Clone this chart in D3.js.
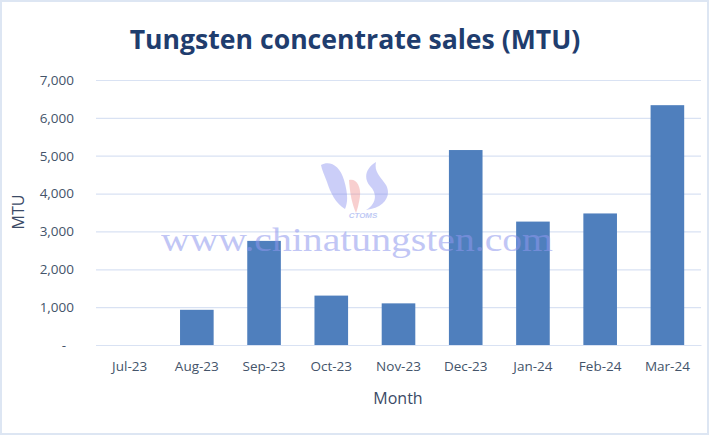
<!DOCTYPE html>
<html><head><meta charset="utf-8">
<script src="https://cdn.jsdelivr.net/npm/d3@7"></script>
<style>body{margin:0;background:#fff}svg{display:block}</style>
</head><body>
<svg id="c" width="710" height="436"></svg>
<script>
const months = ["Jul-23","Aug-23","Sep-23","Oct-23","Nov-23","Dec-23","Jan-24","Feb-24","Mar-24"];
const sales = [0, 930, 2750, 1305, 1100, 5150, 3260, 3475, 6335];
const yTicks = [0,1000,2000,3000,4000,5000,6000,7000];
const titleText = "Tungsten concentrate sales (MTU)";
const xTitle = "Month", yTitle = "MTU";

const svg = d3.select("#c");
svg.append("rect").attr("x",1).attr("y",1).attr("width",707).attr("height",433)
  .attr("fill","#fff").attr("stroke","#dde6f3").attr("stroke-width",2);

const x = d3.scaleBand().domain(months).range([96,701]).paddingInner(0.5).paddingOuter(0.25);
const y = d3.scaleLinear().domain([0,7000]).range([345,80]);

// gridlines
const grid = svg.append("g").attr("transform","translate(96,0)")
  .call(d3.axisLeft(y).tickValues(yTicks).tickSize(-605).tickFormat(""));
grid.select(".domain").remove();
grid.selectAll("line").attr("stroke","#d9e2f3").attr("stroke-width",1.2);

// y axis labels
const fmt = v => v === 0 ? "-" : d3.format(",")(v);
const ya = svg.append("g").attr("transform","translate(74,0)")
  .call(d3.axisLeft(y).tickValues(yTicks).tickSize(0).tickPadding(0).tickFormat(fmt));
ya.select(".domain").remove();
ya.selectAll("text").attr("font-family","'Open Sans', sans-serif").attr("font-size",13.5)
  .attr("fill","#44546a").attr("dx", d => d===0 ? -8 : 0);

// bars
svg.append("g").selectAll("rect").data(months).join("rect")
  .attr("x", d => x(d)).attr("width", x.bandwidth())
  .attr("y", (d,i) => y(sales[i])).attr("height", (d,i) => y(0) - y(sales[i]))
  .attr("fill","#4f7fbd");

// logo watermark
const logo = svg.append("g").attr("opacity",0.4);
logo.append("path").attr("d","M321,165 C330,160 340,166 344,180 C348,194 348,202 345,209 C336,204 330,192 327,182 C324,174 322,170 321,165 Z").attr("fill","#7f86ee");
logo.append("path").attr("d","M376,162 C366,168 363,178 370,186 C378,194 376,204 366,210 C384,208 392,196 386,185 C380,176 374,172 376,162 Z").attr("fill","#7f86ee");
logo.append("path").attr("d","M349,180 C356,178 361,186 360,196 C359,204 357,210 356,213 C352,204 350,194 349,180 Z").attr("fill","#ee8a8a");
logo.append("text").attr("x",363).attr("y",218).attr("text-anchor","middle")
  .attr("font-family","'Liberation Sans', sans-serif").attr("font-style","italic").attr("font-weight","bold")
  .attr("font-size",8).attr("fill","#5f78e6").text("CTOMS");

// text watermark (on top of bars)
svg.append("text").attr("x",357).attr("y",251).attr("text-anchor","middle")
  .attr("font-family","'Liberation Serif', serif").attr("font-size",34)
  .attr("textLength",392).attr("lengthAdjust","spacingAndGlyphs")
  .attr("fill","#8f98ee").attr("opacity",0.55).text("www.chinatungsten.com");

// x axis
const xa = svg.append("g").attr("transform","translate(0,345)")
  .call(d3.axisBottom(x).tickSize(0).tickPadding(16));
xa.select(".domain").attr("stroke","#d9e2f3").attr("stroke-width",1.2);
xa.selectAll("text").attr("font-family","'Open Sans', sans-serif").attr("font-size",13.5).attr("fill","#44546a");

// axis titles
svg.append("text").attr("x",398).attr("y",404).attr("text-anchor","middle")
  .attr("font-family","'Open Sans', sans-serif").attr("font-size",16).attr("fill","#3b4a66").text(xTitle);
svg.append("text").attr("transform","translate(24,212) rotate(-90)").attr("text-anchor","middle")
  .attr("font-family","'Open Sans', sans-serif").attr("font-size",16).attr("fill","#3b4a66").text(yTitle);

// title
const t = svg.append("text").attr("x",355).attr("y",49).attr("text-anchor","middle")
  .attr("font-family","'Open Sans', sans-serif").attr("font-weight","bold").attr("font-size",26)
  .attr("fill","#1f3d6e").text(titleText);
const w = t.node().getComputedTextLength();
t.attr("font-size", 26*451/w);
</script>
</body></html>
